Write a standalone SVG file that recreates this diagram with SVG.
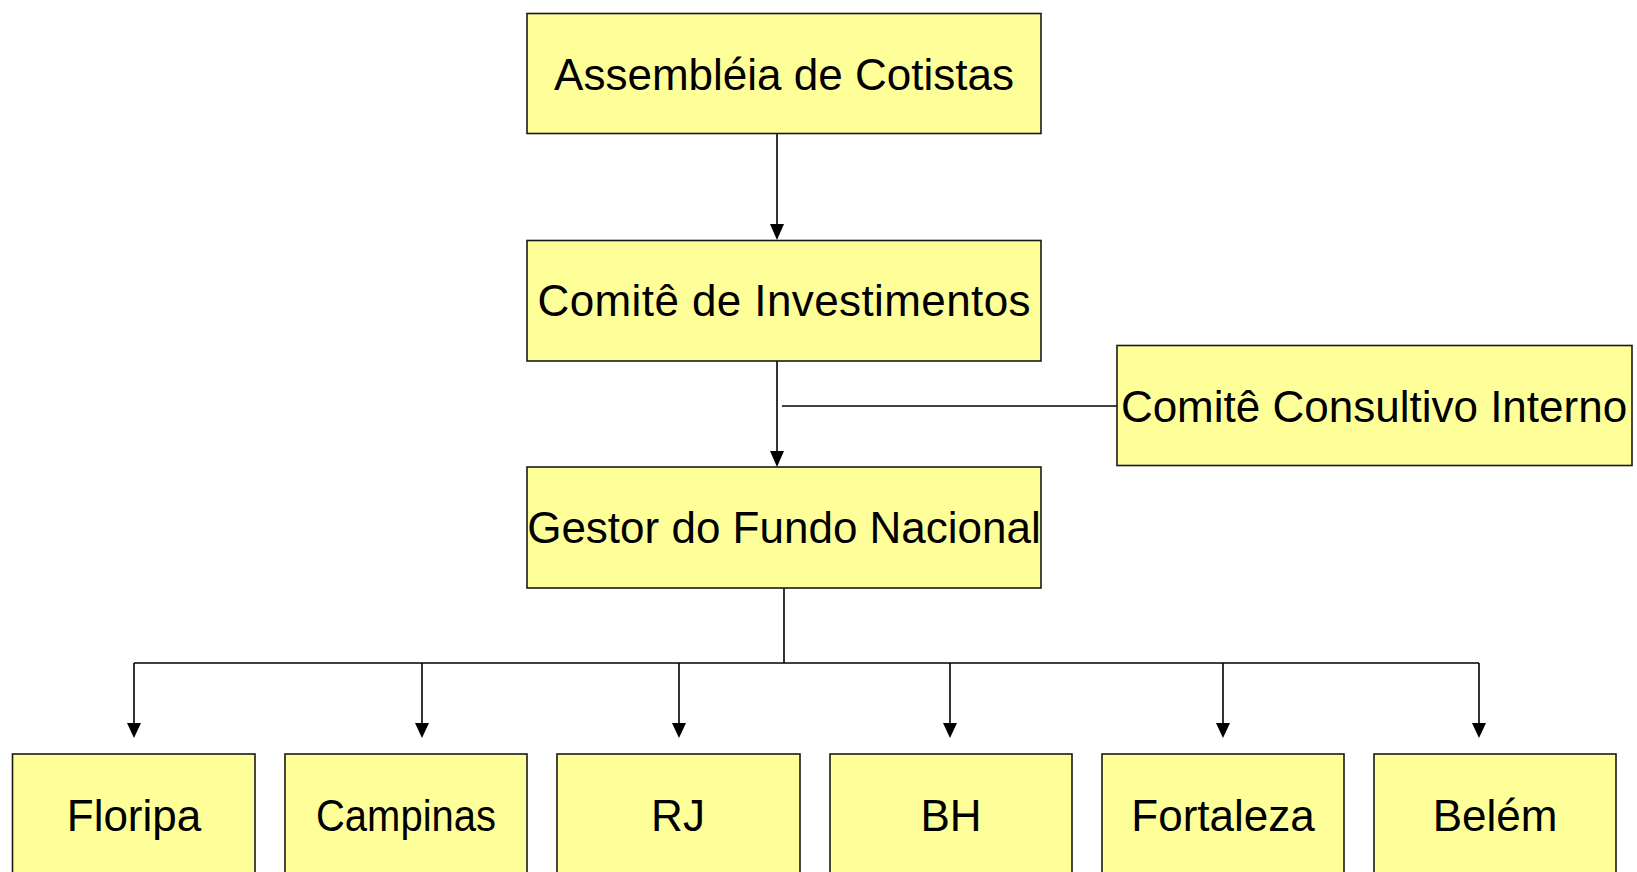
<svg xmlns="http://www.w3.org/2000/svg" width="1637" height="872" viewBox="0 0 1637 872">
<style>
.box{fill:#FFFF99;stroke:#1a1a1a;stroke-width:1.6}
.lbl{font-family:"Liberation Sans",Arial,sans-serif;font-size:44px;fill:#000;text-anchor:middle}
.ln{fill:none;stroke:#000;stroke-width:1.6}
.ah{fill:#000}
</style>
<rect width="1637" height="872" fill="#fff"/>
<g id="connectors">
<path class="ln" d="M777,134 V224" />
<path class="ah" d="M770,224 L784,224 L777,240 Z"/>
<path class="ln" d="M777,361 V451" />
<path class="ah" d="M770,451 L784,451 L777,467 Z"/>
<path class="ln" d="M782,406 H1117" />
<path class="ln" d="M784,588 V663 M134,663 H1479" />
<path class="ln" d="M134,663 V723 M422,663 V723 M679,663 V723 M950,663 V723 M1223,663 V723 M1479,663 V723" />
<path class="ah" d="M127,723 h14 l-7,15 Z M415,723 h14 l-7,15 Z M672,723 h14 l-7,15 Z M943,723 h14 l-7,15 Z M1216,723 h14 l-7,15 Z M1472,723 h14 l-7,15 Z"/>
</g>
<g id="assembleia"><rect class="box" x="527" y="13.5" width="514" height="120"/><text class="lbl" x="784" y="90">Assembléia de Cotistas</text></g>
<g id="comite-investimentos"><rect class="box" x="527" y="240.5" width="514" height="120.5"/><text class="lbl" x="784" y="316" textLength="493" lengthAdjust="spacing">Comitê de Investimentos</text></g>
<g id="comite-consultivo"><rect class="box" x="1117" y="345.5" width="515" height="120"/><text class="lbl" x="1374" y="422">Comitê Consultivo Interno</text></g>
<g id="gestor"><rect class="box" x="527" y="467" width="514" height="121"/><text class="lbl" x="784" y="543">Gestor do Fundo Nacional</text></g>
<g id="floripa"><rect class="box" x="12.5" y="754" width="242.5" height="140"/><text class="lbl" x="134" y="831">Floripa</text></g>
<g id="campinas"><rect class="box" x="285" y="754" width="242" height="140"/><text class="lbl" x="406" y="831" textLength="180" lengthAdjust="spacingAndGlyphs">Campinas</text></g>
<g id="rj"><rect class="box" x="557" y="754" width="243" height="140"/><text class="lbl" x="678" y="831">RJ</text></g>
<g id="bh"><rect class="box" x="830" y="754" width="242" height="140"/><text class="lbl" x="951" y="831">BH</text></g>
<g id="fortaleza"><rect class="box" x="1102" y="754" width="242" height="140"/><text class="lbl" x="1223" y="831">Fortaleza</text></g>
<g id="belem"><rect class="box" x="1374" y="754" width="242" height="140"/><text class="lbl" x="1495" y="831">Belém</text></g>
</svg>
